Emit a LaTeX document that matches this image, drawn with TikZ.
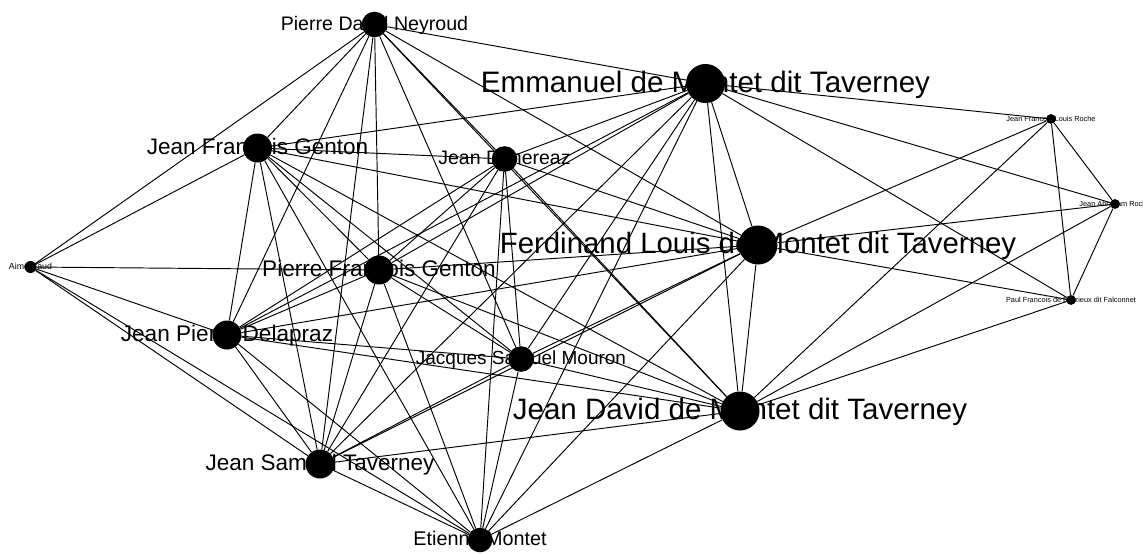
\documentclass[tikz,border=0pt]{standalone}
\usepackage{fontspec}
\setmainfont{Liberation Sans}
\pgfdeclarelayer{lab}
\pgfdeclarelayer{edg}
\pgfsetlayers{lab,edg,main}
\newcommand\mknode[6]{%
  \node[circle,fill=black,inner sep=0pt,minimum size={#4*2pt}] (#1) at (#2,#3) {};
  \begin{pgfonlayer}{lab}
  \node[anchor=base,inner sep=0pt,font=\fontsize{#5pt}{#5pt}\selectfont] (#1-l) at (#2,{#3+0.3*#5}) {#6};
  \end{pgfonlayer}}
\begin{document}
\begin{tikzpicture}[x=1pt,y=-1pt,edge/.style={line width=0.95pt,black}]
\useasboundingbox (0,0) rectangle (1143,554);
\mknode{PDN}{374.5}{24.5}{12.8}{19.6}{Pierre David Neyroud}
\mknode{EMT}{705.5}{83.5}{19.5}{29.6}{Emmanuel de Montet dit Taverney}
\mknode{JFG}{257.5}{148}{14.5}{22.5}{Jean Francois Genton}
\mknode{JD}{504.5}{159}{12.8}{19.5}{Jean Denereaz}
\mknode{FLMT}{758}{245}{19.5}{29.4}{Ferdinand Louis de Montet dit Taverney}
\mknode{PFG}{379}{270}{14.5}{22.6}{Pierre Francois Genton}
\mknode{JPD}{227}{335}{14.5}{22.6}{Jean Pierre Delapraz}
\mknode{JSM}{521}{359}{12.8}{19}{Jacques Samuel Mouron}
\mknode{JDMT}{740}{411}{19.5}{29.5}{Jean David de Montet dit Taverney}
\mknode{JST}{320}{464}{14.5}{22.5}{Jean Samuel Taverney}
\mknode{ETM}{480}{540}{12.3}{19.8}{Etienne Montet}
\mknode{AIM}{30.5}{267}{6}{8.8}{Aime Baud}
\mknode{JFLR}{1051}{119}{4.9}{7.35}{Jean Francois Louis Roche}
\mknode{JAR}{1115}{204}{4.9}{7.35}{Jean Abraham Roche}
\mknode{PFF}{1071}{300}{4.9}{7.35}{Paul Francois de Brezieux dit Falconnet}
\begin{pgfonlayer}{edg}
\foreach \a/\b in {PDN/EMT,PDN/JFG,PDN/JD,PDN/FLMT,PDN/PFG,PDN/JPD,PDN/JSM,PDN/JDMT,PDN/JST,PDN/AIM,
  EMT/JFG,EMT/JD,EMT/FLMT,EMT/PFG,EMT/JPD,EMT/JSM,EMT/JDMT,EMT/JST,EMT/ETM,EMT/JFLR,EMT/JAR,EMT/PFF,
  JFG/JD,JFG/FLMT,JFG/PFG,JFG/JPD,JFG/JSM,JFG/JDMT,JFG/JST,JFG/ETM,JFG/AIM,
  JD/FLMT,JD/PFG,JD/JPD,JD/JSM,JD/JDMT,JD/JST,JD/ETM,
  FLMT/PFG,FLMT/JPD,FLMT/JSM,FLMT/JDMT,FLMT/JST,FLMT/ETM,FLMT/JFLR,FLMT/JAR,FLMT/PFF,
  PFG/JPD,PFG/JSM,PFG/JDMT,PFG/JST,PFG/ETM,PFG/AIM,
  JPD/JSM,JPD/JDMT,JPD/JST,JPD/ETM,JPD/AIM,
  JSM/JDMT,JSM/JST,JSM/ETM,
  JDMT/JST,JDMT/ETM,JDMT/JFLR,JDMT/JAR,JDMT/PFF,
  JST/ETM,JST/AIM,ETM/AIM,
  JFLR/JAR,JFLR/PFF,JAR/PFF}
  \draw[edge] (\a) -- (\b);
\end{pgfonlayer}
\end{tikzpicture}
\end{document}
